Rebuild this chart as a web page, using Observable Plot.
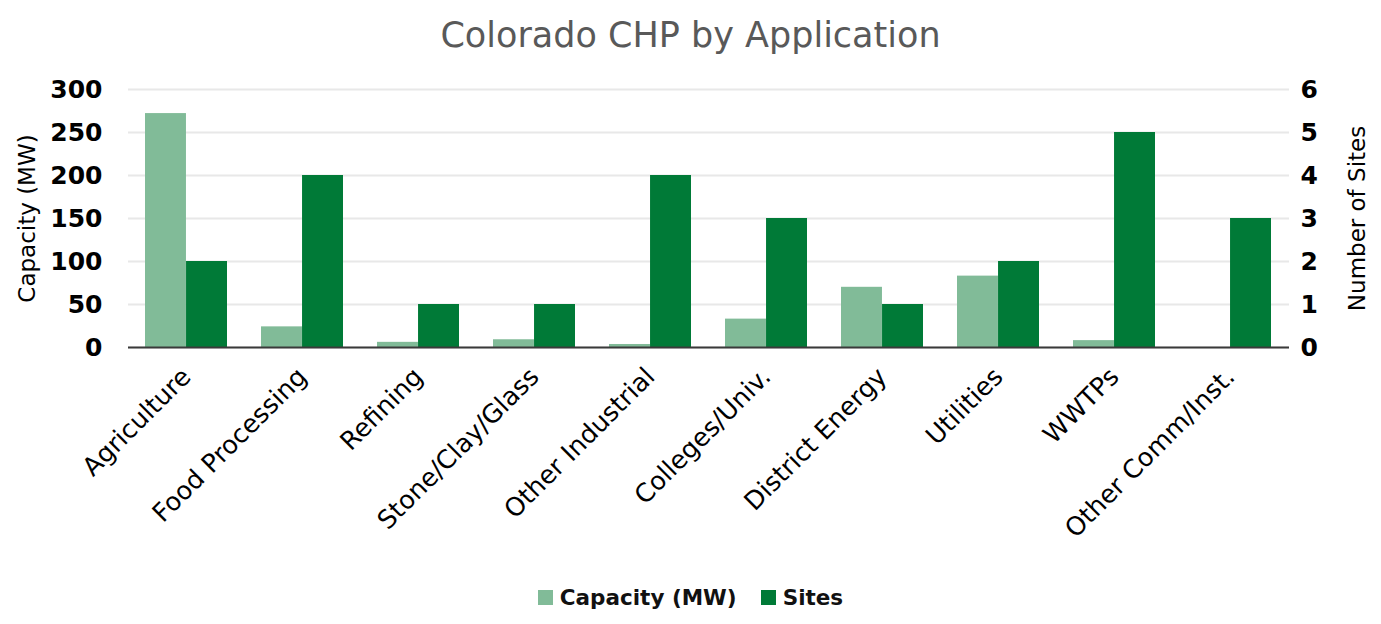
<!DOCTYPE html>
<html>
<head>
<meta charset="utf-8">
<script src="https://cdn.jsdelivr.net/npm/d3@7"></script>
<script src="https://cdn.jsdelivr.net/npm/@observablehq/plot@0.6"></script>
<style>
  html, body { margin: 0; padding: 0; background: #fff; }
  body { width: 1381px; height: 624px; overflow: hidden; font-family: "DejaVu Sans", sans-serif; }
  #title { height: 70px; line-height: 70px; text-align: center; font-size: 35px; color: #595959; font-family: "DejaVu Sans", sans-serif; }
  #legend { display: flex; justify-content: center; align-items: center; gap: 24px; height: 54px; font-size: 21.5px; font-weight: bold; color: #111; }
  #legend .item { display: flex; align-items: center; gap: 7px; }
  #legend .sw { width: 15px; height: 15px; display: inline-block; }
</style>
</head>
<body>
<div id="title">Colorado CHP by Application</div>
<div id="chart"></div>
<div id="legend"></div>
<script>
const categories = ["Agriculture", "Food Processing", "Refining", "Stone/Clay/Glass", "Other Industrial", "Colleges/Univ.", "District Energy", "Utilities", "WWTPs", "Other Comm/Inst."];
const capacity = [272, 24, 6, 9, 3.5, 33, 70, 83, 8, 0];
const sites = [2, 4, 1, 1, 4, 3, 1, 2, 5, 3];
const leftTicks = [0, 50, 100, 150, 200, 250, 300];
const rightTicks = [0, 1, 2, 3, 4, 5, 6];
const seriesNames = ["Capacity (MW)", "Sites"];
const seriesColors = ["#81bb98", "#007a37"];
const leftTitle = "Capacity (MW)";
const rightTitle = "Number of Sites";

const ratio = leftTicks[leftTicks.length - 1] / rightTicks[rightTicks.length - 1];
const data = categories.map((c, i) => ({cat: c, cap: capacity[i], sites: sites[i]}));

const W = 1381, H = 500;
const mL = 128, mR = 92, mT = 19, mB = 223;
const step = (W - mL - mR) / categories.length;
const pInner = 0.293;
const half = step * (1 - pInner) / 2;

const chart = Plot.plot({
  width: W, height: H,
  marginLeft: mL, marginRight: mR, marginTop: mT, marginBottom: mB,
  style: {fontFamily: "'DejaVu Sans', sans-serif", background: "#fff"},
  x: {domain: categories, paddingInner: pInner, paddingOuter: pInner / 2, label: null},
  y: {domain: [0, 300], label: null},
  marks: [
    Plot.gridY(leftTicks, {stroke: "#e8e8e8", strokeOpacity: 1, strokeWidth: 2}),
    Plot.barY(data, {x: "cat", y: "cap", fill: seriesColors[0], insetRight: half}),
    Plot.barY(data, {x: "cat", y: d => d.sites * ratio, fill: seriesColors[1], insetLeft: half}),
    Plot.ruleY([0], {stroke: "#3a3a3a", strokeWidth: 2}),
    Plot.axisY({anchor: "left", ticks: leftTicks, tickSize: 0, tickPadding: 26, fontSize: 25, fontWeight: "bold", fill: "#000", label: null}),
    Plot.axisY({anchor: "right", ticks: leftTicks, tickFormat: d => d / ratio, tickSize: 0, tickPadding: 11, fontSize: 25, fontWeight: "bold", fill: "#000", label: null}),
    Plot.axisX({tickRotate: -45, tickSize: 0, tickPadding: 25, fontSize: 25.5, fill: "#000", stroke: "#000", strokeWidth: 0.35, label: null}),
    Plot.text([leftTitle], {frameAnchor: "left", textAnchor: "middle", rotate: -90, dx: -101, fontSize: 23, fill: "#000"}),
    Plot.text([rightTitle], {frameAnchor: "right", textAnchor: "middle", rotate: -90, dx: 68, fontSize: 23, fill: "#000"})
  ]
});
document.getElementById("chart").appendChild(chart);

const legend = document.getElementById("legend");
seriesNames.forEach((n, i) => {
  const item = document.createElement("div");
  item.className = "item";
  const sw = document.createElement("span");
  sw.className = "sw";
  sw.style.background = seriesColors[i];
  const t = document.createElement("span");
  t.textContent = n;
  item.appendChild(sw);
  item.appendChild(t);
  legend.appendChild(item);
});
</script>
</body>
</html>
